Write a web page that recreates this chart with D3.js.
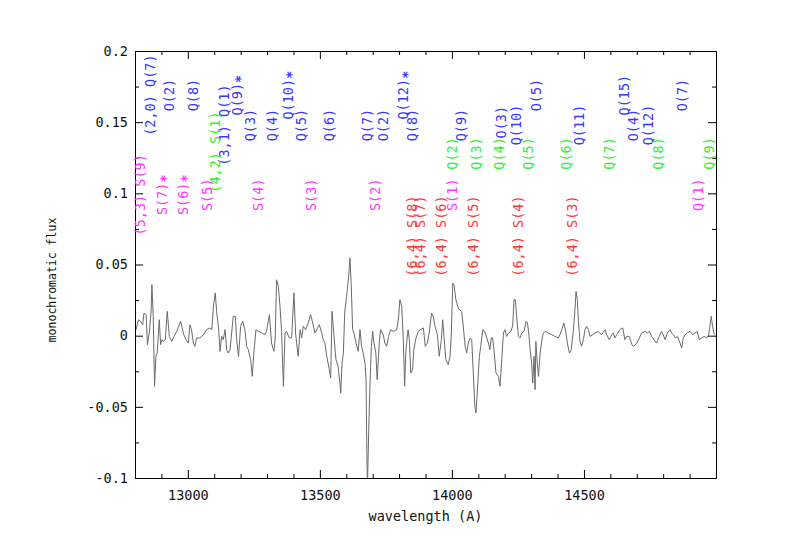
<!DOCTYPE html>
<html>
<head>
<meta charset="utf-8">
<script src="https://cdn.jsdelivr.net/npm/d3@7"></script>
<style>
	body { margin: 0; background: #fff; }
	text { font-family: "DejaVu Sans Mono", monospace; }
</style>
</head>
<body>
<script>

// Spectrum (wavelength in A, flux)
const wave = [
	12804, 12813, 12821, 12829, 12834, 12842, 12847, 12854, 12861, 12864, 12869, 12874, 12879, 12884, 12892, 12897,
	12902, 12907, 12915, 12922, 12930, 12939, 12948, 12958, 12968, 12973, 12980, 12985, 12993, 13002, 13008, 13014,
	13021, 13027, 13033, 13046, 13059, 13071, 13084, 13091, 13097, 13104, 13109, 13117, 13122, 13128, 13134, 13141,
	13147, 13153, 13160, 13172, 13180, 13185, 13192, 13200, 13208, 13216, 13223, 13229, 13238, 13244, 13250, 13258,
	13267, 13280, 13292, 13298, 13309, 13317, 13326, 13331, 13336, 13343, 13349, 13355, 13362, 13368, 13374, 13384,
	13393, 13402, 13408, 13412, 13418, 13425, 13431, 13437, 13446, 13456, 13465, 13473, 13481, 13488, 13498, 13507,
	13513, 13519, 13526, 13536, 13541, 13546, 13553, 13561, 13569, 13576, 13579, 13584, 13589, 13594, 13601, 13608,
	13614, 13619, 13624, 13629, 13637, 13645, 13652, 13658, 13664, 13671, 13675, 13677, 13680, 13685, 13690, 13695,
	13700, 13705, 13712, 13717, 13725, 13730, 13740, 13746, 13753, 13760, 13768, 13778, 13791, 13798, 13803, 13810,
	13816, 13821, 13826, 13834, 13839, 13844, 13851, 13856, 13864, 13873, 13881, 13892, 13899, 13907, 13914, 13923,
	13929, 13936, 13945, 13952, 13960, 13965, 13970, 13977, 13986, 13993, 13998, 14003, 14008, 14015, 14024, 14028,
	14037, 14043, 14050, 14056, 14062, 14069, 14075, 14081, 14087, 14091, 14096, 14104, 14109, 14117, 14124, 14132,
	14138, 14144, 14149, 14154, 14159, 14167, 14176, 14182, 14188, 14195, 14201, 14207, 14215, 14223, 14230, 14235,
	14240, 14245, 14252, 14258, 14265, 14273, 14281, 14286, 14291, 14296, 14302, 14306, 14311, 14315, 14318, 14323,
	14328, 14334, 14341, 14346, 14354, 14365, 14378, 14390, 14403, 14409, 14416, 14424, 14432, 14437, 14445, 14452,
	14460, 14466, 14470, 14475, 14479, 14485, 14491, 14498, 14504, 14510, 14517, 14523, 14533, 14542, 14554, 14567,
	14580, 14586, 14596, 14605, 14611, 14618, 14624, 14636, 14647, 14655, 14662, 14672, 14681, 14689, 14700, 14710,
	14718, 14731, 14740, 14748, 14756, 14765, 14775, 14785, 14794, 14800, 14807, 14816, 14826, 14832, 14838, 14846,
	14854, 14864, 14870, 14876, 14883, 14891, 14901, 14912, 14920, 14929, 14937, 14946, 14955, 14965, 14972, 14977,
	14982, 14987, 14992, 14997
]

const flux = [
	0.0042, 0.0112, 0.0101, 0.0077, 0.0159, 0.0148, -0.0063, 0.0019, 0.0171, 0.0358, 0.0136, -0.0356, -0.0145, -0.0122, 0.0112, -0.0063,
	-0.0028, -0.0040, -0.0028, 0.0171, -0.0005, -0.0040, -0.0005, 0.0030, 0.0077, 0.0101, 0.0042, 0.0007, -0.0028, -0.0052, 0.0077, 0.0042,
	-0.0052, -0.0075, -0.0016, -0.0016, 0.0007, 0.0042, 0.0054, 0.0042, 0.0206, 0.0300, 0.0171, 0.0042, -0.0110, -0.0005, -0.0028, 0.0042,
	-0.0098, -0.0122, -0.0098, 0.0136, 0.0136, -0.0028, -0.0145, 0.0066, 0.0101, 0.0042, -0.0075, -0.0098, -0.0169, -0.0286, -0.0122, 0.0042,
	0.0030, 0.0019, 0.0007, 0.0030, 0.0148, -0.0052, -0.0110, -0.0016, 0.0393, 0.0347, 0.0206, 0.0030, -0.0356, 0.0019, 0.0030, -0.0016,
	-0.0016, 0.0300, 0.0019, -0.0052, -0.0145, 0.0042, -0.0016, 0.0066, 0.0042, 0.0089, 0.0148, 0.0089, 0.0019, 0.0042, 0.0077, 0.0019,
	-0.0028, -0.0052, -0.0145, -0.0239, -0.0297, 0.0171, 0.0007, -0.0169, -0.0215, -0.0333, -0.0403, -0.0192, -0.0122, 0.0159, 0.0276, 0.0393,
	0.0546, 0.0347, 0.0042, 0.0019, -0.0052, -0.0110, 0.0042, -0.0075, -0.0122, -0.0192, -0.0309, -0.0684, -0.1082, -0.0660, -0.0333, -0.0075,
	0.0030, -0.0052, -0.0122, -0.0309, -0.0052, 0.0042, 0.0007, -0.0052, -0.0075, -0.0005, 0.0042, 0.0030, 0.0042, 0.0124, 0.0253, 0.0206,
	-0.0028, -0.0356, -0.0098, 0.0042, -0.0028, -0.0262, -0.0239, -0.0098, -0.0016, 0.0030, 0.0042, 0.0054, -0.0075, -0.0052, 0.0019, 0.0159,
	0.0136, 0.0066, 0.0007, -0.0145, -0.0028, 0.0112, -0.0005, -0.0169, -0.0204, -0.0145, 0.0019, 0.0370, 0.0358, 0.0253, 0.0194, 0.0183,
	0.0171, 0.0066, -0.0075, -0.0122, -0.0052, -0.0016, -0.0028, -0.0262, -0.0496, -0.0543, -0.0403, -0.0145, -0.0075, 0.0042, 0.0030, -0.0016,
	-0.0052, -0.0098, -0.0016, -0.0016, -0.0098, -0.0262, -0.0286, -0.0356, -0.0192, 0.0019, 0.0042, -0.0005, 0.0019, 0.0030, 0.0066, 0.0253,
	0.0253, 0.0136, -0.0005, -0.0016, 0.0019, 0.0030, 0.0101, 0.0089, 0.0019, -0.0098, -0.0192, -0.0333, -0.0145, -0.0379, -0.0040, -0.0192,
	-0.0286, -0.0122, -0.0028, 0.0019, 0.0030, 0.0019, 0.0007, -0.0005, -0.0016, 0.0007, 0.0042, 0.0089, 0.0019, -0.0052, -0.0122, -0.0098,
	0.0042, 0.0183, 0.0311, 0.0253, 0.0101, -0.0040, -0.0075, -0.0028, 0.0042, 0.0066, 0.0042, -0.0005, 0.0007, 0.0019, 0.0030, 0.0007,
	0.0042, 0.0007, -0.0028, 0.0007, 0.0019, -0.0016, 0.0007, 0.0042, 0.0054, -0.0028, -0.0005, -0.0005, -0.0063, -0.0075, -0.0052, -0.0016,
	0.0019, 0.0030, 0.0019, 0.0030, -0.0005, -0.0028, -0.0052, -0.0005, 0.0030, 0.0007, -0.0028, 0.0019, 0.0042, 0.0019, 0.0007, -0.0016,
	-0.0005, -0.0052, -0.0087, -0.0016, 0.0007, 0.0019, 0.0030, 0.0007, 0.0019, 0.0030, -0.0028, -0.0016, -0.0005, -0.0016, 0.0007, 0.0066,
	0.0136, 0.0066, 0.0019, 0.0007
]

// Line identifications: [ wavelength, flux level, label ]
const blueLines = [
	[ 12858, 0.169, '(2,0) Q(7)' ], [ 12931, 0.169, 'O(2)' ], [ 13022, 0.169, 'Q(8)' ],
	[ 13139, 0.148, '(3,1) Q(1)' ], [ 13186, 0.169, 'Q(9)*' ], [ 13236, 0.148, 'Q(3)' ],
	[ 13318, 0.148, 'Q(4)' ], [ 13379, 0.169, 'Q(10)*' ], [ 13430, 0.148, 'Q(5)' ],
	[ 13537, 0.148, 'Q(6)' ], [ 13678, 0.148, 'Q(7)' ], [ 13741, 0.148, 'O(2)' ],
	[ 13817, 0.169, 'Q(12)*' ], [ 13850, 0.148, 'Q(8)' ], [ 14036, 0.148, 'Q(9)' ],
	[ 14185, 0.150, 'O(3)' ], [ 14244, 0.148, 'Q(10)' ], [ 14320, 0.169, 'O(5)' ],
	[ 14481, 0.148, 'Q(11)' ], [ 14654, 0.169, 'Q(15)' ], [ 14686, 0.148, 'O(4)' ],
	[ 14743, 0.148, 'Q(12)' ], [ 14873, 0.169, 'O(7)' ]
]

const greenLines = [
	[ 13104, 0.129, '(4,2) S(1)' ], [ 14002, 0.128, 'Q(2)' ], [ 14092, 0.128, 'Q(3)' ],
	[ 14181, 0.128, 'Q(4)' ], [ 14288, 0.128, 'Q(5)' ], [ 14433, 0.128, 'Q(6)' ],
	[ 14595, 0.128, 'Q(7)' ], [ 14780, 0.128, 'Q(8)' ], [ 14976, 0.128, 'Q(9)' ]
]

const magentaLines = [
	[ 12820, 0.099, '(5,3) S(9)' ], [ 12902, 0.099, 'S(7)*' ], [ 12981, 0.099, 'S(6)*' ],
	[ 13075, 0.099, 'S(5)' ], [ 13268, 0.099, 'S(4)' ], [ 13467, 0.099, 'S(3)' ],
	[ 13710, 0.099, 'S(2)' ], [ 14002, 0.099, 'S(1)' ], [ 14932, 0.099, 'Q(1)' ]
]

const redLines = [
	[ 13850, 0.070, '(6,4) S(8)' ], [ 13880, 0.070, '(6,4) S(7)' ], [ 13960, 0.070, '(6,4) S(6)' ],
	[ 14082, 0.070, '(6,4) S(5)' ], [ 14250, 0.070, '(6,4) S(4)' ], [ 14456, 0.070, '(6,4) S(3)' ]
]

const xTicks = [ 13000, 13500, 14000, 14500 ],
	yTicks = [ -0.1, -0.05, 0, 0.05, 0.1, 0.15, 0.2 ]

const width = 785,
	height = 555,
	plotLeft = 135,
	plotRight = 716,
	plotTop = 51,
	plotBottom = 478,
	fontSize = 13.5

const x = d3.scaleLinear().domain( [ 12800, 15000 ] ).range( [ plotLeft, plotRight ] ),
	y = d3.scaleLinear().domain( [ -0.1, 0.2 ] ).range( [ plotBottom, plotTop ] )

const svg = d3.select( 'body' )
	.append( 'svg' )
	.attr( 'width', width )
	.attr( 'height', height )
	.style( 'font-size', fontSize + 'px' )

svg.append( 'rect' )
	.attr( 'width', width )
	.attr( 'height', height )
	.attr( 'fill', '#fff' )

svg.append( 'clipPath' )
	.attr( 'id', 'plot' )
	.append( 'rect' )
	.attr( 'x', plotLeft )
	.attr( 'y', plotTop )
	.attr( 'width', plotRight - plotLeft )
	.attr( 'height', plotBottom - plotTop )

// Spectrum
svg.append( 'path' )
	.datum( wave.map( ( w, i ) => [ w, flux[ i ] ] ) )
	.attr( 'clip-path', 'url(#plot)' )
	.attr( 'fill', 'none' )
	.attr( 'stroke', '#6a6a6a' )
	.attr( 'stroke-width', 1 )
	.attr( 'd', d3.line()
		.x( d => x( d[ 0 ] ) )
		.y( d => y( d[ 1 ] ) ) )

// Ticks op alle vier de kanten, naar binnen
const xMinor = d3.range( 12900, 15000, 100 ).filter( d => d % 500 ),
	yMinor = d3.range( -0.075, 0.2, 0.05 ).map( d => +d.toFixed( 3 ) )

function axis( gen, scale, major, minor, transform, labels ) {

	const g = svg.append( 'g' ).attr( 'transform', transform )

	g.call( gen( scale )
		.tickValues( minor )
		.tickSize( -4 )
		.tickSizeOuter( 0 )
		.tickFormat( '' ) )

	g.append( 'g' ).call( gen( scale )
		.tickValues( major )
		.tickSize( -8 )
		.tickSizeOuter( 0 )
		.tickPadding( labels ? ( gen === d3.axisBottom ? 12 : 7 ) : 0 )
		.tickFormat( labels ? d => String( d ) : '' ) )

	g.selectAll( 'path, line' ).attr( 'stroke', '#000' )
	g.selectAll( 'text' )
		.attr( 'fill', '#111' )
		.style( 'font-family', '"DejaVu Sans Mono", monospace' )
		.style( 'font-size', fontSize + 'px' )

}

axis( d3.axisBottom, x, xTicks, xMinor, `translate( 0, ${ plotBottom } )`, true )
axis( d3.axisTop, x, xTicks, xMinor, `translate( 0, ${ plotTop } )`, false )
axis( d3.axisLeft, y, yTicks, yMinor, `translate( ${ plotLeft }, 0 )`, true )
axis( d3.axisRight, y, yTicks, yMinor, `translate( ${ plotRight }, 0 )`, false )

// Lijn labels
const labelG = svg.append( 'g' )

function drawLabels( list, colour ) {

	list.forEach( ( [ w, level, label ] ) => {

		const star = label.endsWith( '*' ),
			t = labelG.append( 'text' )
				.attr( 'transform', `translate( ${ x( w ) }, ${ y( level ) } ) rotate( -90 )` )
				.attr( 'text-anchor', 'middle' )
				.attr( 'dy', '0.35em' )
				.attr( 'fill', colour )
				.text( star ? label.slice( 0, -1 ) : label )

		if ( star ) t.append( 'tspan' )
			.attr( 'font-weight', 'bold' )
			.attr( 'dy', '0.25em' )
			.text( '*' )

	})

}

drawLabels( blueLines, '#3636ff' )
drawLabels( greenLines, '#33ee33' )
drawLabels( magentaLines, '#ff36ff' )
drawLabels( redLines, '#ff3636' )

// As titels
svg.append( 'text' )
	.attr( 'x', ( plotLeft + plotRight ) / 2 )
	.attr( 'y', 521 )
	.attr( 'text-anchor', 'middle' )
	.attr( 'fill', '#111' )
	.text( 'wavelength (A)' )

svg.append( 'text' )
	.attr( 'transform', `translate( 56, 280 ) rotate( -90 )` )
	.attr( 'text-anchor', 'middle' )
	.attr( 'fill', '#111' )
	.style( 'font-size', '11.5px' )
	.text( 'monochromatic flux' )

</script>
</body>
</html>
